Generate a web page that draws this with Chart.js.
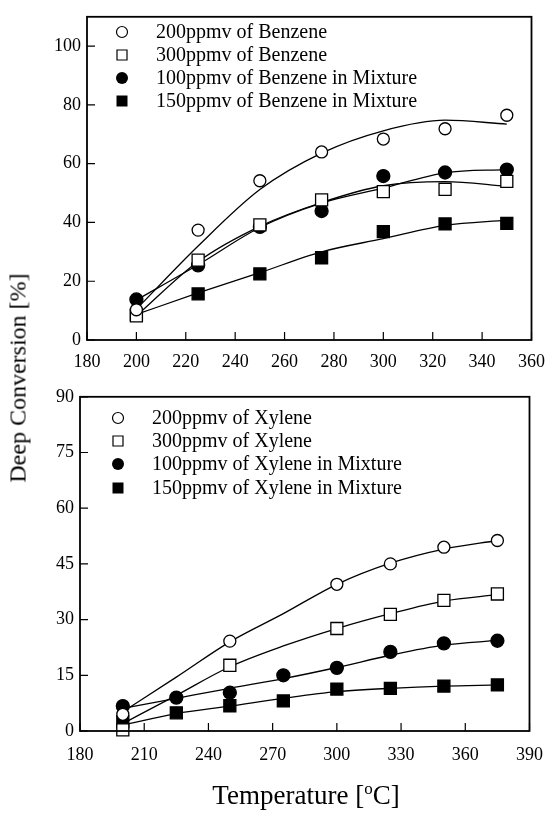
<!DOCTYPE html>
<html>
<head>
<meta charset="utf-8">
<script src="https://cdn.jsdelivr.net/npm/chart.js@4.4.1/dist/chart.umd.min.js"></script>
<style>
  body { margin: 0; background: #fff; width: 556px; height: 816px; position: relative; overflow: hidden; font-family: "Liberation Serif", serif; color: #000; }
  #topChart { position: absolute; left: 0; top: 0; }
  #bottomChart { position: absolute; left: 0; top: 380px; }
  .ytitle { position: absolute; left: 18px; top: 378px; transform: translate(-50%, -50%) rotate(-90deg); font-size: 24px; white-space: nowrap; }
  .xtitle { position: absolute; left: 306px; top: 795px; transform: translate(-50%, -50%); font-size: 27px; white-space: nowrap; }
  .xtitle sup { font-size: 17px; vertical-align: 10px; line-height: 0; }
</style>
</head>
<body>
<canvas id="topChart" width="556" height="380"></canvas>
<canvas id="bottomChart" width="556" height="400"></canvas>
<div class="ytitle">Deep Conversion [%]</div>
<div class="xtitle">Temperature [<sup>o</sup>C]</div>
<script>
// ---- top panel: benzene ----
const benzTemps = [200, 225, 250, 275, 300, 325, 350];
const benz200 = [10.3, 37.4, 54.2, 64, 68.4, 71.9, 76.5];
const benz300 = [8.2, 27.2, 39.2, 47.7, 50.5, 51.3, 54];
const benzMix100 = [13.8, 25.4, 38.5, 43.9, 55.8, 57, 58];
const benzMix150 = [8.7, 15.7, 22.5, 28, 36.9, 39.5, 39.7];
// fitted curves at the same temperatures
const benzFit200 = [10.5, 32, 51.2, 63.6, 71.2, 74.8, 73.5];
const benzFit300 = [8.2, 26.7, 38.7, 46.8, 52.5, 53.9, 52.3];
const benzFitMix100 = [13.6, 25.6, 38.3, 46.6, 51.7, 56.9, 58];
const benzFitMix150 = [8.7, 16, 22.9, 30, 34.5, 39, 40.8];
const topXTicks = [180, 200, 220, 240, 260, 280, 300, 320, 340, 360];
const topYTicks = [0, 20, 40, 60, 80, 100];

// ---- bottom panel: xylene ----
const xylTemps = [200, 250, 300, 325, 350, 375];
const xylMixTemps = [200, 225, 250, 275, 300, 325, 350, 375];
const xyl200 = [4.5, 24.2, 39.5, 45, 49.5, 51.3];
const xyl300 = [0.3, 17.7, 27.6, 31.4, 35.2, 36.9];
const xylMix100 = [6.7, 9, 10.3, 15, 17, 21.3, 23.6, 24.3];
const xylMix150 = [2.5, 4.9, 6.8, 8.1, 11.3, 11.5, 12.1, 12.4];
const xylFit200 = [5.2, 14.5, 24, 31.6, 39.5, 45.2, 49, 51.3];
const xylFit300 = [2, 9.6, 17.3, 22.9, 27.6, 31.6, 35, 36.7];
const xylFitMix100 = [6.1, 8.8, 11.5, 14.1, 17.1, 20.4, 23.1, 24.4];
const xylFitMix150 = [1.6, 4.7, 6.7, 8.8, 10.6, 11.5, 12.1, 12.4];
const bottomXTicks = [180, 210, 240, 270, 300, 330, 360, 390];
const bottomYTicks = [0, 15, 30, 45, 60, 75, 90];

const FONT = "'Liberation Serif', 'Times New Roman', serif";

function pts(xs, ys) {
  return xs.map((x, i) => ({ x: x, y: ys[i] }));
}

function markerSet(label, xs, ys, style, filled) {
  let r = style === 'rect' ? 8.5 : (filled ? 6.5 : 6);
  return {
    label: label,
    data: pts(xs, ys),
    showLine: false,
    order: 0,
    clip: false,
    pointStyle: style,
    pointRadius: r,
    pointHoverRadius: r,
    pointBackgroundColor: filled ? '#000' : '#fff',
    pointBorderColor: '#000',
    pointBorderWidth: 1.3,
    marker: { style: style, filled: filled }
  };
}

function fitSet(xs, ys) {
  return {
    label: 'fit',
    data: pts(xs, ys),
    showLine: true,
    order: 1,
    pointRadius: 0,
    borderColor: '#000',
    borderWidth: 1.3,
    cubicInterpolationMode: 'monotone',
    fill: false
  };
}

// box, inward ticks and the in-plot legend
const framePlugin = {
  id: 'frame',
  afterDraw(chart, args, opts) {
    const ctx = chart.ctx;
    const a = chart.chartArea;
    const sx = chart.scales.x, sy = chart.scales.y;
    ctx.save();
    ctx.strokeStyle = '#000';
    ctx.lineWidth = 1.2;
    ctx.beginPath();
    sx.ticks.forEach(t => {
      const px = sx.getPixelForValue(t.value);
      ctx.moveTo(px, a.bottom);
      ctx.lineTo(px, a.bottom - 8);
    });
    sy.ticks.forEach(t => {
      const py = sy.getPixelForValue(t.value);
      ctx.moveTo(a.left, py);
      ctx.lineTo(a.left + 8, py);
    });
    ctx.stroke();
    ctx.lineWidth = 1.8;
    ctx.strokeRect(a.left, a.top, a.width, a.height);

    // legend
    const sets = chart.data.datasets.filter(d => d.marker);
    ctx.font = opts.fontSize + 'px ' + FONT;
    ctx.textBaseline = 'middle';
    ctx.textAlign = 'left';
    sets.forEach((d, i) => {
      const y = opts.rows[i];
      const x = opts.markerX;
      ctx.beginPath();
      if (d.marker.style === 'circle') {
        ctx.arc(x, y, d.marker.filled ? 6 : 5.5, 0, Math.PI * 2);
      } else {
        const h = d.marker.filled ? 5.5 : 5;
        ctx.rect(x - h, y - h, 2 * h, 2 * h);
      }
      if (d.marker.filled) {
        ctx.fillStyle = '#000';
        ctx.fill();
      } else {
        ctx.lineWidth = 1.2;
        ctx.stroke();
      }
      ctx.fillStyle = '#000';
      ctx.fillText(d.label, opts.textX, y + 1);
    });
    ctx.restore();
  }
};

function makeChart(id, datasets, cfg) {
  return new Chart(document.getElementById(id), {
    type: 'scatter',
    data: { datasets: datasets },
    plugins: [framePlugin],
    options: {
      responsive: false,
      animation: false,
      events: [],
      layout: { padding: cfg.padding },
      plugins: {
        legend: { display: false },
        tooltip: { enabled: false },
        frame: cfg.legend
      },
      scales: {
        x: {
          type: 'linear',
          min: cfg.xTicks[0],
          max: cfg.xTicks[cfg.xTicks.length - 1],
          afterBuildTicks: s => { s.ticks = cfg.xTicks.map(v => ({ value: v })); },
          afterFit: s => { s.height = cfg.xAxisHeight; },
          grid: { display: false, drawTicks: false },
          border: { display: false },
          ticks: {
            autoSkip: false,
            maxRotation: 0,
            padding: cfg.xPad,
            color: '#000',
            font: { family: FONT, size: 18 }
          }
        },
        y: {
          type: 'linear',
          min: cfg.yMin,
          max: cfg.yMax,
          afterBuildTicks: s => { s.ticks = cfg.yTicks.map(v => ({ value: v })); },
          afterFit: s => { s.width = cfg.yAxisWidth; },
          grid: { display: false, drawTicks: false },
          border: { display: false },
          ticks: {
            padding: 6,
            color: '#000',
            font: { family: FONT, size: 18 }
          }
        }
      }
    }
  });
}

makeChart('topChart', [
  markerSet('200ppmv of Benzene', benzTemps, benz200, 'circle', false),
  markerSet('300ppmv of Benzene', benzTemps, benz300, 'rect', false),
  markerSet('100ppmv of Benzene in Mixture', benzTemps, benzMix100, 'circle', true),
  markerSet('150ppmv of Benzene in Mixture', benzTemps, benzMix150, 'rect', true),
  fitSet(benzTemps, benzFit200),
  fitSet(benzTemps, benzFit300),
  fitSet(benzTemps, benzFitMix100),
  fitSet(benzTemps, benzFitMix150)
], {
  xTicks: topXTicks, yTicks: topYTicks, yMin: 0, yMax: 110,
  padding: { left: 0, right: 14, top: 4, bottom: 0 },
  xAxisHeight: 40, yAxisWidth: 87, xPad: 11,
  legend: { markerX: 122, textX: 156, rows: [32, 55, 78, 101], fontSize: 20 }
});

makeChart('bottomChart', [
  markerSet('200ppmv of Xylene', xylTemps, xyl200, 'circle', false),
  markerSet('300ppmv of Xylene', xylTemps, xyl300, 'rect', false),
  markerSet('100ppmv of Xylene in Mixture', xylMixTemps, xylMix100, 'circle', true),
  markerSet('150ppmv of Xylene in Mixture', xylMixTemps, xylMix150, 'rect', true),
  fitSet(xylMixTemps, xylFit200),
  fitSet(xylMixTemps, xylFit300),
  fitSet(xylMixTemps, xylFitMix100),
  fitSet(xylMixTemps, xylFitMix150)
], {
  xTicks: bottomXTicks, yTicks: bottomYTicks, yMin: 0, yMax: 90,
  padding: { left: 0, right: 21, top: 16, bottom: 0 },
  xAxisHeight: 49, yAxisWidth: 80, xPad: 13,
  legend: { markerX: 118, textX: 152, rows: [38, 61, 84, 108], fontSize: 20 }
});
</script>
</body>
</html>
